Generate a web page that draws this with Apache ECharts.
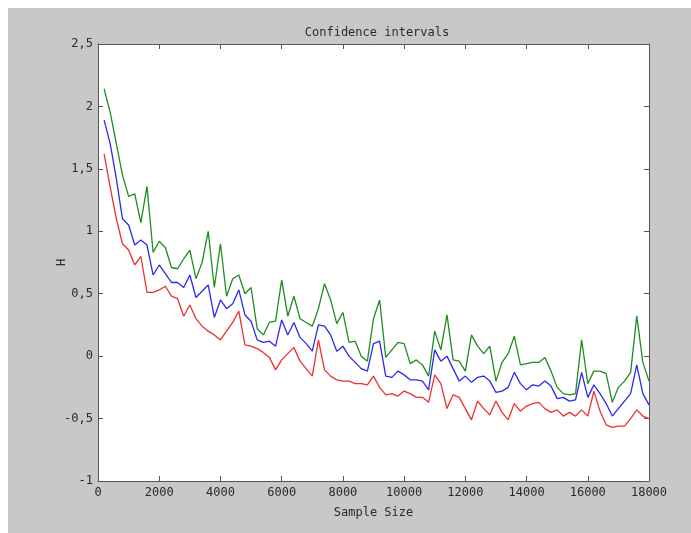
<!DOCTYPE html>
<html>
<head>
<meta charset="utf-8">
<script src="https://cdn.jsdelivr.net/npm/echarts@6/dist/echarts.min.js"></script>
<style>
  html, body { margin: 0; padding: 0; background: #ffffff; }
  #frame { position: absolute; left: 8px; top: 8px; width: 683px; height: 525px; background: #c8c8c8; }
  #chart { position: absolute; left: 0; top: 0; width: 691px; height: 533px; }
</style>
</head>
<body>
<div id="frame"></div>
<div id="chart"></div>
<script>
// Sample sizes (200 .. 18000, step 200)
const sampleSizes = [];
for (let n = 200; n <= 18000; n += 200) sampleSizes.push(n);

// Upper bound of the interval
const upper = [
  2.14, 1.95, 1.70, 1.45, 1.28, 1.30, 1.07, 1.36, 0.83, 0.92,
  0.87, 0.71, 0.70, 0.78, 0.85, 0.62, 0.75, 1.00, 0.55, 0.90,
  0.48, 0.62, 0.65, 0.50, 0.55, 0.22, 0.17, 0.27, 0.28, 0.61,
  0.32, 0.48, 0.30, 0.27, 0.24, 0.38, 0.58, 0.45, 0.26, 0.35,
  0.11, 0.12, 0.00, -0.04, 0.30, 0.45, -0.01, 0.05, 0.11, 0.10,
  -0.06, -0.03, -0.07, -0.16, 0.20, 0.05, 0.33, -0.03, -0.04, -0.12,
  0.17, 0.08, 0.02, 0.08, -0.20, -0.05, 0.02, 0.16, -0.07, -0.06,
  -0.05, -0.05, -0.01, -0.12, -0.25, -0.30, -0.31, -0.30, 0.13, -0.22,
  -0.12, -0.12, -0.14, -0.37, -0.25, -0.20, -0.13, 0.32, -0.05, -0.20
];

// Point estimate
const estimate = [
  1.89, 1.70, 1.42, 1.10, 1.05, 0.89, 0.93, 0.89, 0.65, 0.73,
  0.66, 0.59, 0.59, 0.55, 0.65, 0.47, 0.52, 0.57, 0.31, 0.45,
  0.38, 0.42, 0.53, 0.33, 0.28, 0.13, 0.11, 0.12, 0.08, 0.29,
  0.17, 0.27, 0.15, 0.10, 0.04, 0.25, 0.24, 0.17, 0.04, 0.08,
  0.00, -0.05, -0.10, -0.12, 0.10, 0.12, -0.16, -0.17, -0.12, -0.15,
  -0.19, -0.19, -0.20, -0.27, 0.05, -0.04, 0.00, -0.10, -0.20, -0.16,
  -0.21, -0.17, -0.16, -0.20, -0.29, -0.28, -0.25, -0.13, -0.22, -0.27,
  -0.23, -0.24, -0.20, -0.24, -0.34, -0.33, -0.36, -0.35, -0.13, -0.33,
  -0.23, -0.30, -0.38, -0.48, -0.42, -0.36, -0.30, -0.07, -0.30, -0.39
];

// Lower bound of the interval
const lower = [
  1.62, 1.35, 1.10, 0.90, 0.85, 0.73, 0.80, 0.51, 0.51, 0.53,
  0.56, 0.48, 0.46, 0.32, 0.41, 0.30, 0.24, 0.20, 0.17, 0.13,
  0.20, 0.27, 0.36, 0.09, 0.08, 0.06, 0.03, -0.01, -0.11, -0.03,
  0.02, 0.07, -0.04, -0.10, -0.16, 0.13, -0.11, -0.16, -0.19, -0.20,
  -0.20, -0.22, -0.22, -0.23, -0.16, -0.25, -0.31, -0.30, -0.32, -0.28,
  -0.30, -0.33, -0.33, -0.37, -0.15, -0.22, -0.42, -0.31, -0.33, -0.42,
  -0.51, -0.36, -0.42, -0.47, -0.36, -0.45, -0.51, -0.38, -0.44, -0.40,
  -0.38, -0.37, -0.42, -0.45, -0.43, -0.48, -0.45, -0.48, -0.43, -0.48,
  -0.28, -0.44, -0.55, -0.57, -0.56, -0.56, -0.50, -0.43, -0.48, -0.50
];

const chart = echarts.init(document.getElementById('chart'), null, { renderer: 'canvas' });

const font = 'DejaVu Sans Mono';
const axisColor = '#555555';
const textColor = '#2a2a2a';

const pairs = (ys) => sampleSizes.map((x, i) => [x, ys[i]]);
const commaLabel = (v) => String(Math.round(v * 10) / 10).replace('.', ',');
const plainLabel = (v) => String(v);

const boxAxis = (extra) => Object.assign({
  axisLine: { show: true, onZero: false, lineStyle: { color: axisColor, width: 1 } },
  axisTick: { show: true, inside: true, length: 5, lineStyle: { color: axisColor } },
  splitLine: { show: false }
}, extra);

chart.setOption({
  animation: false,
  backgroundColor: 'transparent',
  title: {
    text: 'Confidence intervals',
    left: 372, top: 22, textAlign: 'center',
    textStyle: { fontFamily: font, fontSize: 12, fontWeight: 'normal', color: textColor }
  },
  grid: { left: 98, top: 44, right: 42, bottom: 52, backgroundColor: '#ffffff', show: true, borderWidth: 0 },
  xAxis: [
    boxAxis({
      type: 'value', min: 0, max: 18000, interval: 2000, position: 'bottom',
      name: 'Sample Size', nameLocation: 'middle', nameGap: 26,
      nameTextStyle: { fontFamily: font, fontSize: 12, color: textColor },
      axisLabel: { fontFamily: font, fontSize: 12, color: textColor, margin: 6, formatter: plainLabel }
    }),
    boxAxis({
      type: 'value', min: 0, max: 18000, interval: 2000, position: 'top',
      axisLabel: { show: false }
    })
  ],
  yAxis: [
    boxAxis({
      type: 'value', min: -1, max: 2.5, interval: 0.5, position: 'left',
      name: 'H', nameLocation: 'middle', nameGap: 30, nameRotate: 90, nameMoveOverlap: false,
      nameTextStyle: { fontFamily: font, fontSize: 12, color: textColor },
      axisLabel: { fontFamily: font, fontSize: 12, color: textColor, margin: 5, formatter: commaLabel }
    }),
    boxAxis({
      type: 'value', min: -1, max: 2.5, interval: 0.5, position: 'right',
      axisLabel: { show: false }
    })
  ],
  series: [
    { name: 'upper', type: 'line', data: pairs(upper), showSymbol: false,
      lineStyle: { color: '#1f8c1f', width: 1.3 }, itemStyle: { color: '#1f8c1f' } },
    { name: 'estimate', type: 'line', data: pairs(estimate), showSymbol: false,
      lineStyle: { color: '#2a2aee', width: 1.3 }, itemStyle: { color: '#2a2aee' } },
    { name: 'lower', type: 'line', data: pairs(lower), showSymbol: false,
      lineStyle: { color: '#ee2f2f', width: 1.3 }, itemStyle: { color: '#ee2f2f' } }
  ]
});
</script>
</body>
</html>
